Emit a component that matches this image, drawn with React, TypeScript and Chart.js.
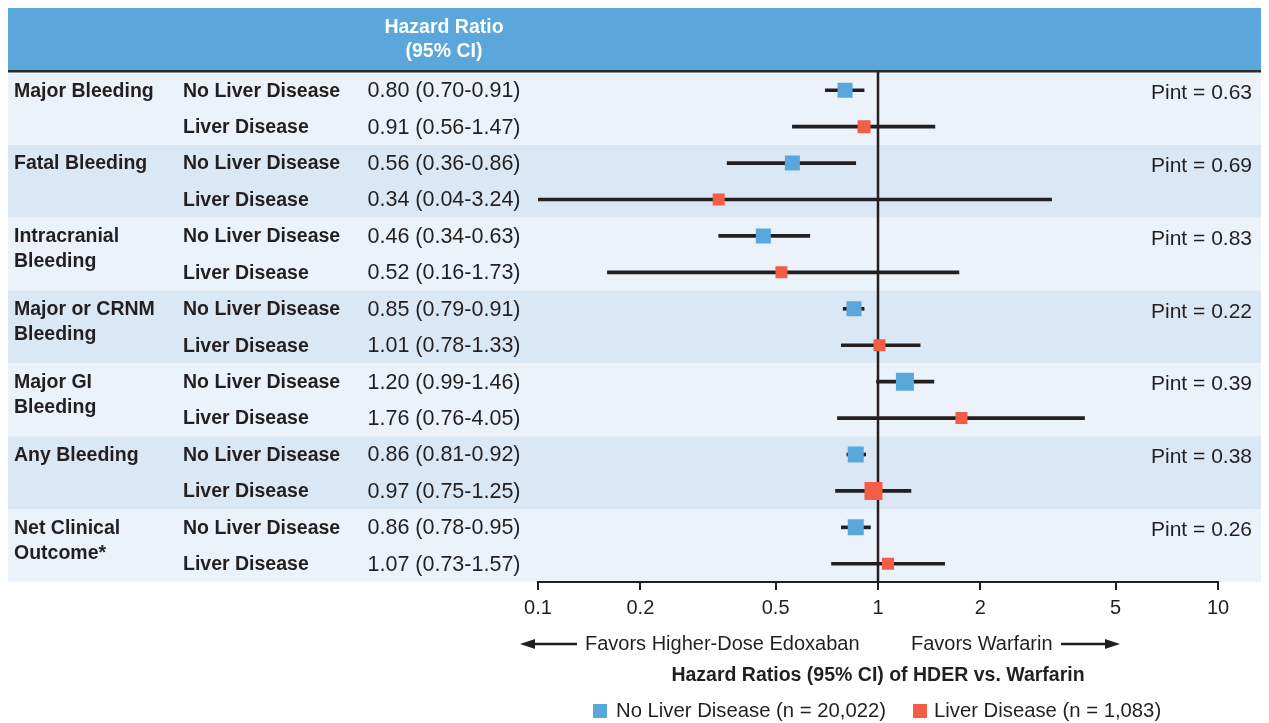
import { useEffect, useRef } from "react";
import { Chart, registerables } from "chart.js";

Chart.register(...registerables);

// ---------- data ----------
const groupLabels: string[][] = [
  ["Major Bleeding"],
  ["Fatal Bleeding"],
  ["Intracranial", "Bleeding"],
  ["Major or CRNM", "Bleeding"],
  ["Major GI", "Bleeding"],
  ["Any Bleeding"],
  ["Net Clinical", "Outcome*"],
];
const subgroupLabels = ["No Liver Disease", "Liver Disease"];

const hrNoLiver = [0.8, 0.56, 0.46, 0.85, 1.2, 0.86, 0.86];
const loNoLiver = [0.7, 0.36, 0.34, 0.79, 0.99, 0.81, 0.78];
const hiNoLiver = [0.91, 0.86, 0.63, 0.91, 1.46, 0.92, 0.95];

const hrLiver = [0.91, 0.34, 0.52, 1.01, 1.76, 0.97, 1.07];
const loLiver = [0.56, 0.04, 0.16, 0.78, 0.76, 0.75, 0.73];
const hiLiver = [1.47, 3.24, 1.73, 1.33, 4.05, 1.25, 1.57];

// marker weights (square side)
const weightNoLiver = [15, 15, 15, 15, 18, 16, 16];
const weightLiver = [13, 12, 12, 12, 12, 18, 12];

const pintValues = ["0.63", "0.69", "0.83", "0.22", "0.39", "0.38", "0.26"];
const tickValues = [0.1, 0.2, 0.5, 1, 2, 5, 10];
const legendLabels = ["No Liver Disease (n = 20,022)", "Liver Disease (n = 1,083)"];
const headerLines = ["Hazard Ratio", "(95% CI)"];
const favorsLeft = "Favors Higher-Dose Edoxaban";
const favorsRight = "Favors Warfarin";
const axisTitle = "Hazard Ratios (95% CI) of HDER vs. Warfarin";

// ---------- styles ----------
const FONT = "'Liberation Sans', Arial, sans-serif";
const TEXT = "#231F20";
const HEADER = "#5BA6DA";
const BAND_LIGHT = "#EBF2FA";
const BAND_DARK = "#DAE8F5";
const BLUE = "#5AA7DB";
const RED = "#F15E45";

const W = 1261;
const H = 715;

const fmt = (v: number) => v.toFixed(2);
const rowKeys: string[] = groupLabels.flatMap((g) =>
  subgroupLabels.map((s) => `${g.join(" ")} - ${s}`)
);
const hrTexts: string[] = groupLabels.flatMap((_, g) => [
  `${fmt(hrNoLiver[g])} (${fmt(loNoLiver[g])}-${fmt(hiNoLiver[g])})`,
  `${fmt(hrLiver[g])} (${fmt(loLiver[g])}-${fmt(hiLiver[g])})`,
]);
const ciData: [number, number][] = groupLabels.flatMap((_, g) => [
  [loNoLiver[g], hiNoLiver[g]] as [number, number],
  [loLiver[g], hiLiver[g]] as [number, number],
]);

const tablePlugin = {
  id: "forestTable",
  beforeDraw(chart: any) {
    const { ctx, chartArea, scales } = chart;
    const y = scales.y;
    const slot = (chartArea.bottom - chartArea.top) / rowKeys.length;
    ctx.save();
    // header band
    ctx.fillStyle = HEADER;
    ctx.fillRect(0, 0, W, 62);
    // row bands
    groupLabels.forEach((_, g) => {
      const top = y.getPixelForValue(2 * g) - slot / 2;
      ctx.fillStyle = g % 2 === 0 ? BAND_LIGHT : BAND_DARK;
      ctx.fillRect(0, top, W, 2 * slot);
    });
    // header rule
    ctx.fillStyle = "#2A2A2A";
    ctx.fillRect(0, 62, W, 2.5);
    // header text
    ctx.fillStyle = "#FFFFFF";
    ctx.font = `bold 19.5px ${FONT}`;
    ctx.textAlign = "center";
    ctx.textBaseline = "middle";
    ctx.fillText(headerLines[0], 436, 20);
    ctx.fillText(headerLines[1], 436, 44);
    ctx.restore();
  },
  beforeDatasetsDraw(chart: any) {
    const { ctx, chartArea, scales } = chart;
    const x1 = scales.x.getPixelForValue(1);
    ctx.save();
    ctx.strokeStyle = TEXT;
    ctx.lineWidth = 2.5;
    ctx.beginPath();
    ctx.moveTo(x1, 63);
    ctx.lineTo(x1, chartArea.bottom);
    ctx.stroke();
    ctx.restore();
  },
  afterDraw(chart: any) {
    const { ctx, scales } = chart;
    const y = scales.y;
    ctx.save();
    ctx.fillStyle = TEXT;
    ctx.textBaseline = "middle";
    // group labels and subgroup labels
    groupLabels.forEach((lines, g) => {
      const y0 = y.getPixelForValue(2 * g);
      ctx.font = `bold 19.5px ${FONT}`;
      ctx.textAlign = "left";
      lines.forEach((ln, k) => ctx.fillText(ln, 6, y0 + 1 + k * 25));
      // Pint
      ctx.font = `21px ${FONT}`;
      ctx.textAlign = "right";
      ctx.fillText(`Pint = ${pintValues[g]}`, 1244, y0 + 3);
    });
    rowKeys.forEach((_, i) => {
      const yc = y.getPixelForValue(i) + 1;
      ctx.font = `bold 19.5px ${FONT}`;
      ctx.textAlign = "left";
      ctx.fillText(subgroupLabels[i % 2], 175, yc);
      ctx.font = `21.5px ${FONT}`;
      ctx.textAlign = "center";
      ctx.fillText(hrTexts[i], 436, yc);
    });

    // favors texts with arrows
    const fy = 636;
    ctx.font = `20px ${FONT}`;
    ctx.textAlign = "left";
    ctx.fillText(favorsLeft, 577, fy);
    ctx.fillText(favorsRight, 903, fy);
    ctx.strokeStyle = TEXT;
    ctx.lineWidth = 2.5;
    ctx.beginPath();
    ctx.moveTo(524, fy);
    ctx.lineTo(569, fy);
    ctx.moveTo(1053, fy);
    ctx.lineTo(1100, fy);
    ctx.stroke();
    ctx.beginPath();
    ctx.moveTo(512, fy);
    ctx.lineTo(527, fy - 5);
    ctx.lineTo(527, fy + 5);
    ctx.closePath();
    ctx.moveTo(1112, fy);
    ctx.lineTo(1097, fy - 5);
    ctx.lineTo(1097, fy + 5);
    ctx.closePath();
    ctx.fill();

    // axis title
    ctx.font = `bold 19.5px ${FONT}`;
    ctx.textAlign = "center";
    ctx.fillText(axisTitle, scales.x.getPixelForValue(1), 668);

    // legend
    const ly = 703;
    ctx.font = `20.3px ${FONT}`;
    ctx.textAlign = "left";
    ctx.fillStyle = BLUE;
    ctx.fillRect(585, ly - 7, 14, 14);
    ctx.fillStyle = TEXT;
    ctx.fillText(legendLabels[0], 608, ly);
    ctx.fillStyle = RED;
    ctx.fillRect(905, ly - 7, 14, 14);
    ctx.fillStyle = TEXT;
    ctx.fillText(legendLabels[1], 926, ly);
    ctx.restore();
  },
};

export default function App() {
  const ref = useRef<HTMLCanvasElement | null>(null);

  useEffect(() => {
    document.documentElement.style.overflow = "hidden";
    document.body.style.overflow = "hidden";
    const canvas = ref.current;
    if (!canvas) return;
    Chart.defaults.font.family = FONT;
    Chart.defaults.color = TEXT;

    const noPoints = groupLabels.map((_, g) => ({ x: hrNoLiver[g], y: rowKeys[2 * g] }));
    const liverPoints = groupLabels.map((_, g) => ({ x: hrLiver[g], y: rowKeys[2 * g + 1] }));

    const chart = new Chart(canvas, {
      type: "bar",
      data: {
        labels: rowKeys,
        datasets: [
          {
            type: "line",
            label: subgroupLabels[0],
            data: noPoints as any,
            showLine: false,
            pointStyle: "rect",
            pointRadius: weightNoLiver.map((s) => s / Math.SQRT2),
            pointBackgroundColor: BLUE,
            pointBorderWidth: 0,
            borderWidth: 0,
            order: 0,
          } as any,
          {
            type: "line",
            label: subgroupLabels[1],
            data: liverPoints as any,
            showLine: false,
            pointStyle: "rect",
            pointRadius: weightLiver.map((s) => s / Math.SQRT2),
            pointBackgroundColor: RED,
            pointBorderWidth: 0,
            borderWidth: 0,
            order: 0,
          } as any,
          {
            type: "bar",
            label: "95% CI",
            data: ciData as any,
            backgroundColor: TEXT,
            borderWidth: 0,
            barThickness: 3,
            order: 1,
          } as any,
        ],
      },
      options: {
        indexAxis: "y",
        animation: false,
        responsive: false,
        maintainAspectRatio: false,
        events: [],
        layout: { padding: { left: 530, right: 51, top: 64, bottom: 91 } },
        scales: {
          x: {
            type: "logarithmic",
            min: 0.1,
            max: 10,
            afterBuildTicks: (s: any) => {
              s.ticks = tickValues.map((v) => ({ value: v }));
            },
            afterFit: (s: any) => {
              s.height = 50;
            },
            grid: {
              drawOnChartArea: false,
              drawTicks: true,
              tickLength: 8,
              color: TEXT,
              lineWidth: 2,
            },
            border: { display: true, color: TEXT, width: 2 },
            ticks: {
              autoSkip: false,
              maxRotation: 0,
              padding: 6,
              color: TEXT,
              font: { size: 20, family: FONT },
              callback: (v: any) => String(v),
            },
          },
          y: {
            type: "category",
            display: false,
            offset: true,
          },
        },
        plugins: {
          legend: { display: false },
          tooltip: { enabled: false },
        },
      },
      plugins: [tablePlugin],
    });
    return () => chart.destroy();
  }, []);

  return (
    <div style={{ position: "relative", width: W, height: H }}>
      <canvas ref={ref} width={W} height={H} style={{ display: "block", width: W, height: H }} />
    </div>
  );
}
